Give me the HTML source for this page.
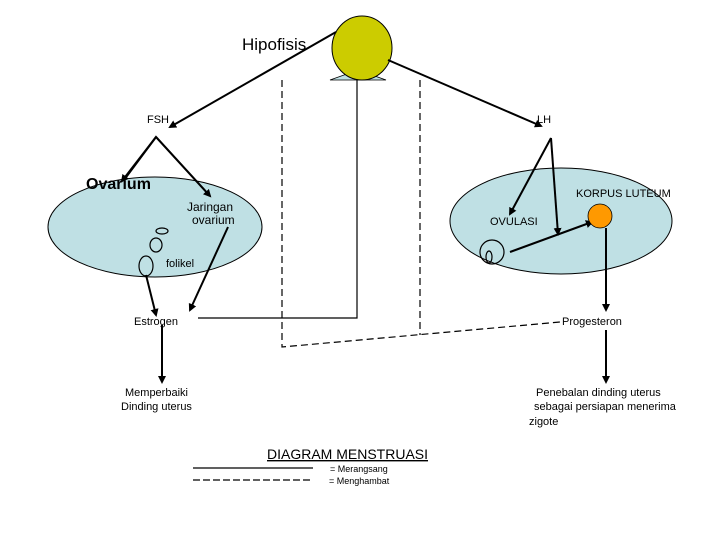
<!DOCTYPE html>
<html><head><meta charset="utf-8"><style>body{margin:0;background:#fff}svg{display:block}text{font-family:"Liberation Sans",sans-serif;fill:#000}</style></head><body>
<svg width="720" height="540" viewBox="0 0 720 540" xmlns="http://www.w3.org/2000/svg">
<defs><marker id="a" markerWidth="8" markerHeight="8" refX="6" refY="4" orient="auto" markerUnits="userSpaceOnUse"><path d="M0,0 L8,4 L0,8 z" fill="#000"/></marker></defs>
<ellipse cx="155" cy="227" rx="107" ry="50" fill="#bfe0e4" stroke="#000"/>
<ellipse cx="561" cy="221" rx="111" ry="53" fill="#bfe0e4" stroke="#000"/>
<polygon points="330,80 386,80 358,70" fill="#bfe0e4" stroke="#000" stroke-width="0.8"/>
<ellipse cx="362" cy="48" rx="30" ry="32" fill="#cccc00" stroke="#000"/>
<text x="242" y="50" font-size="17">Hipofisis</text>
<g stroke="#000" stroke-width="2" fill="none">
<line x1="336" y1="82" x2="170" y2="177" transform="translate(0,-50)" marker-end="url(#a)"/>
<line x1="388" y1="60" x2="541" y2="126" marker-end="url(#a)"/>
<polyline points="124,180 156,137 210,196" stroke-width="2"/>
<line x1="156" y1="137" x2="122" y2="181" marker-end="url(#a)"/>
<line x1="156" y1="137" x2="210" y2="196" marker-end="url(#a)"/>
<line x1="228" y1="227" x2="190" y2="310" marker-end="url(#a)"/>
<line x1="146" y1="275" x2="156" y2="315" marker-end="url(#a)"/>
<line x1="162" y1="325" x2="162" y2="382" marker-end="url(#a)"/>
<line x1="551" y1="138" x2="510" y2="214" marker-end="url(#a)"/>
<line x1="551" y1="138" x2="558" y2="234" marker-end="url(#a)"/>
<line x1="510" y1="252" x2="592" y2="222" marker-end="url(#a)"/>
<line x1="606" y1="228" x2="606" y2="310" marker-end="url(#a)"/>
<line x1="606" y1="330" x2="606" y2="382" marker-end="url(#a)"/>
</g>
<g stroke="#000" stroke-width="1.2" fill="none">
<polyline points="198,318 357,318 357,80"/>
<polyline points="282,80 282,347 560,322" stroke-dasharray="7,4"/>
<line x1="420" y1="80" x2="420" y2="335" stroke-dasharray="7,4"/>
<ellipse cx="162" cy="231" rx="6" ry="3"/>
<ellipse cx="156" cy="245" rx="6" ry="7"/>
<ellipse cx="146" cy="266" rx="7" ry="10"/>
<circle cx="492" cy="252" r="12"/>
<ellipse cx="489" cy="257" rx="3" ry="6"/>
<line x1="193" y1="468" x2="313" y2="468"/>
<line x1="193" y1="480" x2="313" y2="480" stroke-dasharray="7,3"/>
</g>
<circle cx="600" cy="216" r="12" fill="#ff9900" stroke="#000" stroke-width="0.8"/>
<text x="147" y="123" font-size="11">FSH</text>
<text x="537" y="123" font-size="11">LH</text>
<text x="86" y="189" font-size="16" font-weight="bold" fill="#222">Ovarium</text>
<text x="187" y="211" font-size="12">Jaringan</text>
<text x="192" y="224" font-size="12">ovarium</text>
<text x="166" y="267" font-size="11">folikel</text>
<text x="576" y="197" font-size="11">KORPUS LUTEUM</text>
<text x="490" y="225" font-size="11">OVULASI</text>
<text x="134" y="325" font-size="11">Estrogen</text>
<text x="562" y="325" font-size="11">Progesteron</text>
<text x="125" y="396" font-size="11">Memperbaiki</text>
<text x="121" y="410" font-size="11">Dinding uterus</text>
<text x="536" y="396" font-size="11">Penebalan dinding uterus</text>
<text x="534" y="410" font-size="11">sebagai persiapan menerima</text>
<text x="529" y="425" font-size="11">zigote</text>
<text x="267" y="459" font-size="14" text-decoration="underline">DIAGRAM  MENSTRUASI</text>
<text x="330" y="472" font-size="9">= Merangsang</text>
<text x="329" y="484" font-size="9">= Menghambat</text>
</svg>
</body></html>
